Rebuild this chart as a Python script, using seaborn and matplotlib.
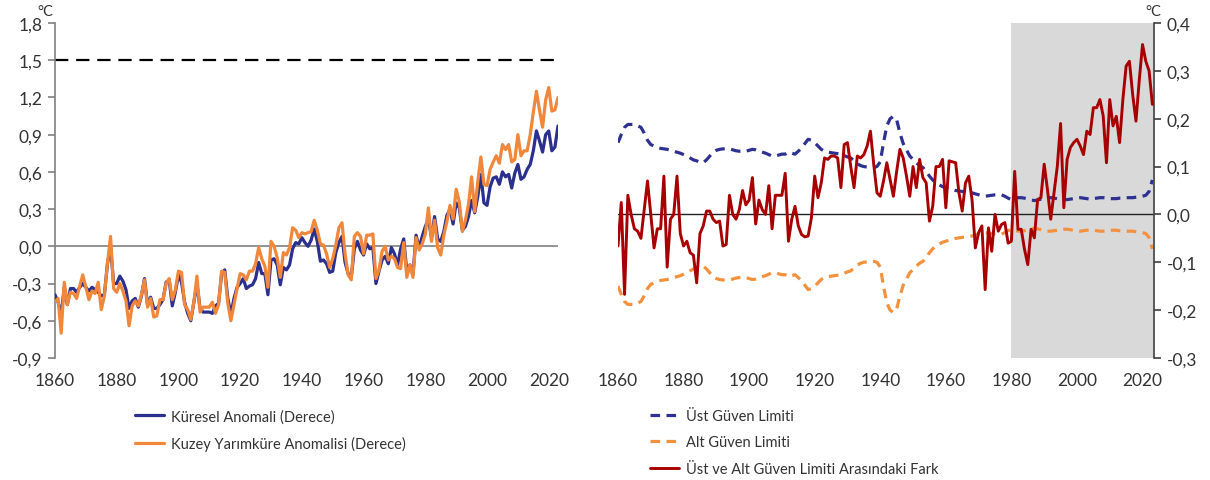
import numpy as np
import pandas as pd
import matplotlib
matplotlib.use("Agg")
import matplotlib.pyplot as plt
import seaborn as sns
from matplotlib.ticker import FuncFormatter

# yıllar
years = list(range(1860, 2024))

# Küresel anomali (sol grafik, mavi)
kuresel = [
    -0.39, -0.45, -0.55, -0.33, -0.47, -0.34, -0.34, -0.37, -0.33, -0.30,  # 1860
    -0.33, -0.36, -0.33, -0.35, -0.37, -0.40, -0.39, -0.14, 0.00, -0.30,   # 1870
    -0.30, -0.24, -0.28, -0.35, -0.50, -0.44, -0.42, -0.49, -0.40, -0.26,  # 1880
    -0.47, -0.41, -0.50, -0.50, -0.47, -0.43, -0.29, -0.27, -0.48, -0.37,  # 1890
    -0.23, -0.29, -0.45, -0.54, -0.60, -0.45, -0.30, -0.50, -0.53, -0.53,  # 1900
    -0.53, -0.54, -0.48, -0.46, -0.22, -0.19, -0.42, -0.55, -0.42, -0.33,  # 1910
    -0.30, -0.26, -0.34, -0.32, -0.31, -0.26, -0.13, -0.22, -0.22, -0.39,  # 1920
    -0.11, -0.10, -0.15, -0.31, -0.17, -0.19, -0.15, -0.02, 0.03, 0.02,    # 1930
    0.07, 0.03, 0.00, 0.05, 0.14, 0.04, -0.12, -0.11, -0.14, -0.21,        # 1940
    -0.20, -0.05, 0.03, 0.08, -0.13, -0.22, -0.25, -0.02, 0.04, -0.03,     # 1950
    -0.07, 0.02, -0.02, -0.01, -0.30, -0.20, -0.11, -0.08, -0.14, -0.01,   # 1960
    -0.06, -0.15, -0.02, 0.06, -0.20, -0.15, -0.23, 0.09, -0.01, 0.08,     # 1970
    0.16, 0.22, 0.07, 0.24, 0.06, 0.04, 0.12, 0.25, 0.30, 0.18,            # 1980
    0.35, 0.31, 0.13, 0.16, 0.24, 0.37, 0.27, 0.40, 0.58, 0.35,            # 1990
    0.33, 0.48, 0.55, 0.56, 0.50, 0.60, 0.56, 0.58, 0.47, 0.59,            # 2000
    0.66, 0.54, 0.56, 0.62, 0.66, 0.77, 0.93, 0.85, 0.76, 0.90,            # 2010
    0.93, 0.77, 0.80, 0.97,                                                # 2020
]

# Kuzey yarımküre anomalisi (sol grafik, turuncu)
kuzey = [
    -0.45, -0.42, -0.70, -0.29, -0.47, -0.37, -0.38, -0.42, -0.32, -0.23,  # 1860
    -0.33, -0.43, -0.36, -0.38, -0.29, -0.51, -0.40, -0.14, 0.08, -0.34,   # 1870
    -0.37, -0.30, -0.36, -0.44, -0.64, -0.48, -0.44, -0.48, -0.39, -0.27,  # 1880
    -0.49, -0.42, -0.57, -0.56, -0.43, -0.43, -0.30, -0.26, -0.43, -0.35,  # 1890
    -0.20, -0.21, -0.47, -0.51, -0.59, -0.45, -0.24, -0.53, -0.49, -0.49,  # 1900
    -0.49, -0.45, -0.54, -0.47, -0.20, -0.21, -0.46, -0.60, -0.47, -0.34,  # 1910
    -0.22, -0.23, -0.27, -0.20, -0.20, -0.14, -0.01, -0.10, -0.16, -0.33,  # 1920
    0.04, 0.00, -0.09, -0.25, -0.05, -0.07, -0.01, 0.15, 0.13, 0.07,       # 1930
    0.11, 0.10, 0.11, 0.12, 0.21, 0.13, 0.02, 0.01, -0.06, -0.17,          # 1940
    -0.10, 0.01, 0.15, 0.19, -0.06, -0.23, -0.27, 0.08, 0.11, 0.08,        # 1950
    -0.06, 0.09, 0.09, 0.10, -0.26, -0.19, -0.04, 0.00, -0.11, -0.08,      # 1960
    -0.10, -0.17, -0.18, 0.03, -0.25, -0.15, -0.25, 0.07, -0.03, 0.02,     # 1970
    0.10, 0.31, 0.04, 0.21, -0.01, -0.07, 0.09, 0.20, 0.33, 0.22,          # 1980
    0.46, 0.36, 0.12, 0.21, 0.34, 0.56, 0.28, 0.52, 0.72, 0.50,            # 1990
    0.49, 0.62, 0.68, 0.73, 0.67, 0.82, 0.78, 0.82, 0.68, 0.70,            # 2000
    0.90, 0.73, 0.77, 0.77, 0.90, 1.08, 1.25, 1.10, 0.96, 1.18,            # 2010
    1.28, 1.09, 1.10, 1.20,                                                # 2020
]

# Üst güven limiti (sağ grafik, mavi kesikli)
ust_limit = [
    0.150, 0.167, 0.182, 0.188, 0.188, 0.188, 0.185, 0.182, 0.170, 0.155,  # 1860
    0.146, 0.143, 0.140, 0.138, 0.137, 0.136, 0.134, 0.132, 0.130, 0.128,  # 1870
    0.125, 0.122, 0.118, 0.114, 0.112, 0.109, 0.108, 0.114, 0.122, 0.130,  # 1880
    0.134, 0.136, 0.137, 0.137, 0.137, 0.135, 0.133, 0.132, 0.132, 0.132,  # 1890
    0.134, 0.136, 0.135, 0.132, 0.130, 0.128, 0.125, 0.122, 0.122, 0.124,  # 1900
    0.126, 0.126, 0.130, 0.128, 0.126, 0.132, 0.139, 0.148, 0.157, 0.155,  # 1910
    0.150, 0.143, 0.136, 0.132, 0.130, 0.129, 0.128, 0.127, 0.126, 0.123,  # 1920
    0.120, 0.118, 0.112, 0.106, 0.102, 0.100, 0.099, 0.098, 0.098, 0.100,  # 1930
    0.110, 0.150, 0.185, 0.200, 0.205, 0.198, 0.170, 0.148, 0.135, 0.122,  # 1940
    0.115, 0.108, 0.102, 0.098, 0.090, 0.080, 0.072, 0.066, 0.062, 0.058,  # 1950
    0.056, 0.054, 0.052, 0.050, 0.049, 0.048, 0.047, 0.046, 0.045, 0.043,  # 1960
    0.041, 0.039, 0.038, 0.039, 0.040, 0.041, 0.042, 0.041, 0.038, 0.034,  # 1970
    0.031, 0.033, 0.035, 0.035, 0.034, 0.032, 0.030, 0.029, 0.030, 0.032,  # 1980
    0.034, 0.035, 0.035, 0.034, 0.033, 0.032, 0.031, 0.031, 0.032, 0.033,  # 1990
    0.034, 0.035, 0.034, 0.033, 0.032, 0.033, 0.034, 0.035, 0.035, 0.034,  # 2000
    0.033, 0.033, 0.033, 0.034, 0.034, 0.035, 0.035, 0.035, 0.036, 0.037,  # 2010
    0.038, 0.040, 0.048, 0.072,                                            # 2020
]

# Alt güven limiti (sağ grafik, turuncu kesikli)
alt_limit = [
    -0.150, -0.167, -0.182, -0.188, -0.188, -0.188, -0.185, -0.182, -0.170, -0.155,  # 1860
    -0.146, -0.143, -0.140, -0.138, -0.137, -0.136, -0.134, -0.132, -0.130, -0.128,  # 1870
    -0.125, -0.122, -0.118, -0.114, -0.112, -0.109, -0.108, -0.114, -0.122, -0.130,  # 1880
    -0.134, -0.136, -0.137, -0.137, -0.137, -0.135, -0.133, -0.132, -0.132, -0.132,  # 1890
    -0.134, -0.136, -0.135, -0.132, -0.130, -0.128, -0.125, -0.122, -0.122, -0.124,  # 1900
    -0.126, -0.126, -0.130, -0.128, -0.126, -0.132, -0.139, -0.148, -0.157, -0.155,  # 1910
    -0.150, -0.143, -0.136, -0.132, -0.130, -0.129, -0.128, -0.127, -0.126, -0.123,  # 1920
    -0.120, -0.118, -0.112, -0.106, -0.102, -0.100, -0.099, -0.098, -0.098, -0.100,  # 1930
    -0.110, -0.150, -0.185, -0.200, -0.205, -0.198, -0.170, -0.148, -0.135, -0.122,  # 1940
    -0.115, -0.108, -0.102, -0.098, -0.090, -0.080, -0.072, -0.066, -0.062, -0.058,  # 1950
    -0.056, -0.054, -0.052, -0.050, -0.049, -0.048, -0.047, -0.046, -0.045, -0.043,  # 1960
    -0.041, -0.039, -0.038, -0.039, -0.040, -0.041, -0.042, -0.041, -0.038, -0.034,  # 1970
    -0.031, -0.033, -0.035, -0.035, -0.034, -0.032, -0.030, -0.029, -0.030, -0.032,  # 1980
    -0.034, -0.035, -0.035, -0.034, -0.033, -0.032, -0.031, -0.031, -0.032, -0.033,  # 1990
    -0.034, -0.035, -0.034, -0.033, -0.032, -0.033, -0.034, -0.035, -0.035, -0.034,  # 2000
    -0.033, -0.033, -0.033, -0.034, -0.034, -0.035, -0.035, -0.035, -0.036, -0.037,  # 2010
    -0.038, -0.040, -0.048, -0.072,                                                  # 2020
]

# Üst ve alt güven limiti arasındaki fark (sağ grafik, kırmızı)
fark = [
    -0.066, 0.025, -0.167, 0.040, 0.000, -0.030, -0.035, -0.050, 0.010, 0.070,   # 1860
    0.000, -0.070, -0.030, -0.030, 0.080, -0.110, -0.010, 0.000, 0.080, -0.040,  # 1870
    -0.066, -0.056, -0.080, -0.085, -0.143, -0.040, -0.024, 0.007, 0.007, -0.010,  # 1880
    -0.017, -0.014, -0.066, -0.063, 0.040, 0.000, -0.010, 0.010, 0.050, 0.020,   # 1890
    0.030, 0.077, -0.020, 0.030, 0.010, 0.000, 0.060, -0.030, 0.040, 0.040,      # 1900
    0.040, 0.086, -0.056, -0.010, 0.017, -0.024, -0.042, -0.047, -0.045, -0.007,  # 1910
    0.080, 0.035, 0.066, 0.118, 0.115, 0.122, 0.122, 0.118, 0.056, 0.146,       # 1920
    0.150, 0.100, 0.056, 0.122, 0.118, 0.125, 0.143, 0.174, 0.105, 0.045,       # 1930
    0.038, 0.070, 0.108, 0.073, 0.038, 0.090, 0.136, 0.118, 0.080, 0.038,       # 1940
    0.100, 0.056, 0.115, 0.077, 0.066, -0.014, 0.017, 0.100, 0.100, 0.115,      # 1950
    0.014, 0.112, 0.110, 0.108, 0.045, 0.007, 0.066, 0.080, 0.030, -0.070,      # 1960
    -0.038, -0.024, -0.157, -0.028, -0.077, 0.000, -0.035, -0.021, -0.017, -0.060,  # 1970
    -0.056, 0.090, -0.031, -0.031, -0.073, -0.105, -0.031, -0.049, 0.031, 0.035,  # 1980
    0.105, 0.052, -0.010, 0.045, 0.100, 0.190, 0.014, 0.115, 0.140, 0.150,      # 1990
    0.157, 0.143, 0.125, 0.174, 0.167, 0.223, 0.223, 0.240, 0.206, 0.108,       # 2000
    0.240, 0.185, 0.205, 0.150, 0.240, 0.310, 0.320, 0.250, 0.195, 0.280,       # 2010
    0.355, 0.320, 0.300, 0.230,                                                 # 2020
]

x_ticks = [1860, 1880, 1900, 1920, 1940, 1960, 1980, 2000, 2020]
sol_y_ticks = [-0.9, -0.6, -0.3, 0.0, 0.3, 0.6, 0.9, 1.2, 1.5, 1.8]
sag_y_ticks = [-0.3, -0.2, -0.1, 0.0, 0.1, 0.2, 0.3, 0.4]
esik = 1.5
golge_baslangic = 1980

df_sol = pd.DataFrame({"yil": years, "kuresel": kuresel, "kuzey": kuzey})
df_sag = pd.DataFrame({"yil": years, "ust": ust_limit, "alt": alt_limit, "fark": fark})

sns.set_style("white")
plt.rcParams["font.family"] = ["Lato", "DejaVu Sans"]

MAVI = "#2B2F8E"
TURUNCU = "#F0873A"
KIRMIZI = "#A80000"
YAZI = "#333333"

fig = plt.figure(figsize=(12.1, 4.81), dpi=100)
ax1 = fig.add_axes([55 / 1210, 1 - 359 / 481, 503 / 1210, 335 / 481])
ax2 = fig.add_axes([618 / 1210, 1 - 359 / 481, 536 / 1210, 335 / 481])

virgul = FuncFormatter(lambda v, p: f"{v:.1f}".replace(".", ","))

# sol grafik
ax1.axhline(0, color="#808080", lw=1.2, zorder=1)
ax1.axhline(esik, color="black", lw=1.6, linestyle=(0, (6, 3.5)), zorder=1)
sns.lineplot(data=df_sol, x="yil", y="kuresel", ax=ax1, color=MAVI, lw=2.3,
             label="Küresel Anomali (Derece)", zorder=3)
sns.lineplot(data=df_sol, x="yil", y="kuzey", ax=ax1, color=TURUNCU, lw=2.3,
             label="Kuzey Yarımküre Anomalisi (Derece)", zorder=4)
ax1.set_xlim(1860, 2023)
ax1.set_ylim(-0.9, 1.8)
ax1.set_yticks(sol_y_ticks)
ax1.yaxis.set_major_formatter(virgul)
for s in ["top", "right", "bottom"]:
    ax1.spines[s].set_visible(False)
ax1.spines["left"].set_color("#808080")
ax1.spines["left"].set_linewidth(1.2)
ax1.tick_params(axis="y", direction="out", length=5, width=1.2, color="#808080",
                labelsize=12.5, labelcolor=YAZI, pad=4, left=True)

# sağ grafik
ax2.axvspan(golge_baslangic, 2023.5, color="#D9D9D9", lw=0, zorder=0)
ax2.axhline(0, color="#222222", lw=1.0, zorder=1)
sns.lineplot(data=df_sag, x="yil", y="ust", ax=ax2, color="#2E3192", lw=2.3,
             linestyle=(0, (3, 2)), label="Üst Güven Limiti", zorder=2)
sns.lineplot(data=df_sag, x="yil", y="alt", ax=ax2, color="#F4913E", lw=2.3,
             linestyle=(0, (3, 2)), label="Alt Güven Limiti", zorder=2)
sns.lineplot(data=df_sag, x="yil", y="fark", ax=ax2, color=KIRMIZI, lw=2.1,
             label="Üst ve Alt Güven Limiti Arasındaki Fark", zorder=3)
ax2.set_xlim(1860, 2023.5)
ax2.set_ylim(-0.3, 0.4)
ax2.set_yticks(sag_y_ticks)
ax2.yaxis.set_major_formatter(virgul)
ax2.yaxis.tick_right()
for s in ["top", "left", "bottom"]:
    ax2.spines[s].set_visible(False)
ax2.spines["right"].set_color("#404040")
ax2.spines["right"].set_linewidth(1.2)
ax2.tick_params(axis="y", direction="out", length=5, width=1.2, color="#404040",
                labelsize=12.5, labelcolor=YAZI, pad=4, right=True, left=False)

for ax in (ax1, ax2):
    ax.set_xticks(x_ticks)
    ax.tick_params(axis="x", length=0, labelsize=12.5, labelcolor=YAZI, pad=10)
    ax.set_xlabel("")
    ax.set_ylabel("")
    ax.grid(False)

# birim etiketleri
fig.text(45 / 1210, 1 - 12 / 481, "°C", fontsize=10.5, color=YAZI, ha="center", va="center")
fig.text(1153 / 1210, 1 - 12 / 481, "°C", fontsize=10.5, color=YAZI, ha="center", va="center")

# lejantlar
h1, l1 = ax1.get_legend_handles_labels()
h2, l2 = ax2.get_legend_handles_labels()
for ax in (ax1, ax2):
    if ax.get_legend() is not None:
        ax.get_legend().remove()

leg_kw = dict(loc="upper left", frameon=False, fontsize=10.5, borderpad=0,
              handlelength=2.0, handletextpad=0.5, labelspacing=0.85,
              labelcolor=YAZI, borderaxespad=0)
fig.legend(h1, l1, bbox_to_anchor=(135 / 1210, 1 - 410 / 481), **leg_kw)
fig.legend(h2, l2, bbox_to_anchor=(650 / 1210, 1 - 410 / 481), **leg_kw)

fig.savefig("out.png", dpi=100)
